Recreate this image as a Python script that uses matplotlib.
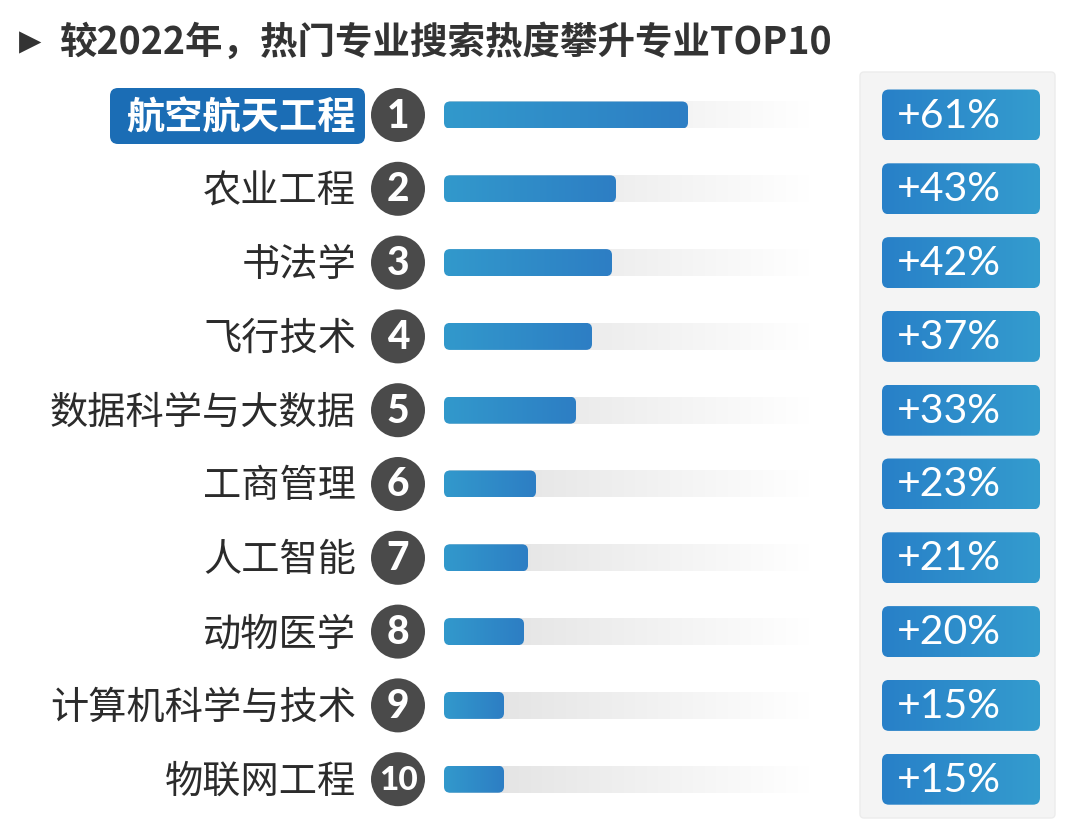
import numpy as np
import matplotlib
matplotlib.use("Agg")
import matplotlib.pyplot as plt
from matplotlib.patches import FancyBboxPatch, Circle

plt.rcParams['font.family'] = ['Noto Sans CJK SC', 'DejaVu Sans']

# data
title = "较2022年，热门专业搜索热度攀升专业TOP10"
majors = ["航空航天工程", "农业工程", "书法学", "飞行技术", "数据科学与大数据",
          "工商管理", "人工智能", "动物医学", "计算机科学与技术", "物联网工程"]
growth = [61, 43, 42, 37, 33, 23, 21, 20, 15, 15]
ranks = [str(i + 1) for i in range(len(majors))]
value_labels = ["+%d%%" % v for v in growth]

# layout (pixels)
W, H = 1080, 827
row0, row_step = 115, 73.8
bar_x0, px_per_pct = 444, 4.0
bar_h = 27
track_end = 810

fig = plt.figure(figsize=(W / 100, H / 100), dpi=100)
ax = fig.add_axes([0, 0, 1, 1])
ax.set_xlim(0, W)
ax.set_ylim(H, 0)
ax.axis('off')


def hgrad(x0, x1, y0, y1, c0, c1, clip=None, z=3):
    t = np.linspace(0, 1, 256)
    img = np.ones((1, 256, 4))
    for k in range(3):
        img[0, :, k] = c0[k] + (c1[k] - c0[k]) * t
    im = ax.imshow(img, extent=(x0, x1, y1, y0), aspect='auto',
                   interpolation='bilinear', zorder=z)
    if clip is not None:
        im.set_clip_path(clip)


def rgb(*c):
    return tuple(v / 255 for v in c)


# title
ax.text(19, 42, "▶", fontsize=21, color="#333333", va='center', ha='left',
        family=['DejaVu Sans'])
ax.text(60, 42, title, fontsize=27, fontweight='bold', color="#333333",
        va='center', ha='left')

# right panel
panel = FancyBboxPatch((860, 72), 195, 746, boxstyle="round,pad=0,rounding_size=4",
                       fc="#f4f4f4", ec="#ececec", lw=1, zorder=1)
ax.add_patch(panel)

for i, (name, v, r, lab) in enumerate(zip(majors, growth, ranks, value_labels)):
    y = row0 + i * row_step

    # label
    if i == 0:
        hb = FancyBboxPatch((110, y - 27), 255, 56, boxstyle="round,pad=0,rounding_size=8",
                            fc="#1b6db5", ec="none", zorder=2)
        ax.add_patch(hb)
        ax.text(356, y + 3, name, fontsize=27.5, color="white", ha='right',
                va='center', fontweight='bold', zorder=3)
    else:
        ax.text(356, y + 3, name, fontsize=27.5, color="#2b2b2b", ha='right',
                va='center', fontweight='medium', zorder=3)

    # rank circle
    ax.add_patch(Circle((398, y), 27, fc="#4a4a4a", ec="none", zorder=3))
    ax.text(398, y + 1, r, fontsize=28 if len(r) == 1 else 24, color="white",
            fontweight='black', family=['Lato', 'DejaVu Sans'],
            ha='center', va='center', zorder=4)

    # track (fades to white, so no clipping needed)
    hgrad(bar_x0 + 5, track_end, y - bar_h / 2, y + bar_h / 2,
          rgb(224, 224, 224), rgb(255, 255, 255), None, z=2)

    # bar
    bw = v * px_per_pct
    bar = FancyBboxPatch((bar_x0, y - bar_h / 2), bw, bar_h,
                         boxstyle="round,pad=0,rounding_size=6",
                         fc="none", ec="none", zorder=3)
    ax.add_patch(bar)
    hgrad(bar_x0, bar_x0 + bw, y - bar_h / 2, y + bar_h / 2,
          rgb(50, 153, 204), rgb(45, 126, 196), bar, z=3)

    # value box
    vb = FancyBboxPatch((882, y - 25.5), 158, 51, boxstyle="round,pad=0,rounding_size=7",
                        fc="none", ec="none", zorder=3)
    ax.add_patch(vb)
    hgrad(882, 1040, y - 25.5, y + 25.5, rgb(40, 128, 200), rgb(52, 156, 206), vb, z=3)
    ax.text(897, y + 1, lab, fontsize=29.5, color="white", family=['Lato', 'DejaVu Sans'],
            ha='left', va='center', zorder=4)

ax.set_xlim(0, W)
ax.set_ylim(H, 0)
fig.savefig("out.png", dpi=100)
